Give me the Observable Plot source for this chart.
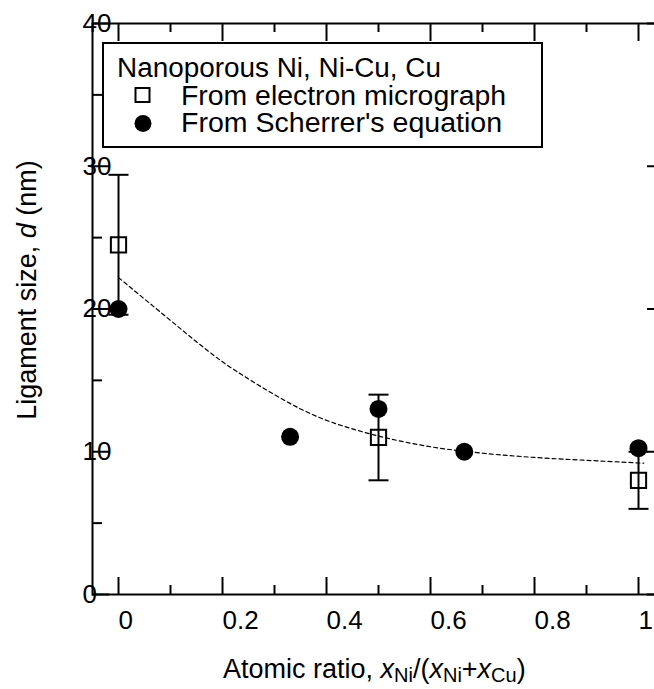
<!DOCTYPE html>
<html>
<head>
<meta charset="utf-8">
<script src="https://cdn.jsdelivr.net/npm/d3@7"></script>
<script src="https://cdn.jsdelivr.net/npm/@observablehq/plot@0.6"></script>
<style>
  html, body { margin: 0; padding: 0; overflow: hidden; background: white; }
  #chart svg { display: block; max-width: none !important; width: 680px !important; height: 689px !important; }
</style>
</head>
<body>
<div id="chart"></div>
<script>
// ---- data ----
const xMajor = [0, 0.2, 0.4, 0.6, 0.8, 1];
const xMinor = [0.1, 0.3, 0.5, 0.7, 0.9];
const xTickLabels = ["0", "0.2", "0.4", "0.6", "0.8", "1"];
const yMajor = [0, 10, 20, 30, 40];
const yMinor = [5, 15, 25, 35];
const yTickLabels = ["0", "10", "20", "30", "40"];

// From electron micrograph (open squares, with error bars)
const micrographX = [0, 0.5, 1];
const micrographD = [24.5, 11, 8];
const micrographErr = [4.9, 3, 2];

// From Scherrer's equation (filled circles)
const scherrerX = [0, 0.33, 0.5, 0.665, 1];
const scherrerD = [20, 11.05, 13, 10, 10.25];

// Dashed guide curve
const curveX = [0, 0.05, 0.1, 0.15, 0.2, 0.25, 0.3, 0.35, 0.4, 0.45, 0.5, 0.6, 0.7, 0.8, 0.9, 1.01];
const curveD = [22.2, 20.7, 19.2, 17.7, 16.3, 15.1, 14.0, 13.0, 12.2, 11.6, 11.1, 10.35, 9.9, 9.6, 9.4, 9.2];

const legendTitle = "Nanoporous Ni, Ni-Cu, Cu";
const legendItems = ["From electron micrograph", "From Scherrer's equation"];

// ---- tables ----
const micro = micrographX.map((x, i) => ({x, d: micrographD[i], err: micrographErr[i]}));
const scher = scherrerX.map((x, i) => ({x, d: scherrerD[i]}));
const curve = curveX.map((x, i) => ({x, d: curveD[i]}));

const W = 680, H = 689;
const mL = 92, mR = 16, mT = 23, mB = 95;
const plotW = W - mL - mR, plotH = H - mT - mB;
const FONT = "'Liberation Sans', Arial, Helvetica, sans-serif";

const capSymbol = {
  draw(context, size) {
    const r = Math.sqrt(size / Math.PI);
    context.moveTo(-r, 0);
    context.lineTo(r, 0);
  }
};

const chart = Plot.plot({
  width: W,
  height: H,
  marginLeft: mL,
  marginRight: mR,
  marginTop: mT,
  marginBottom: mB,
  style: {fontFamily: FONT, fontSize: "26px", background: "white", color: "black", overflow: "visible"},
  x: {domain: [-0.05, 1.05], axis: null},
  y: {domain: [0, 40], axis: null},
  marks: [
    // inward ticks
    Plot.tickX(xMajor, {x: d => d, insetTop: plotH - 17, stroke: "black", strokeWidth: 2}),
    Plot.tickX(xMinor, {x: d => d, insetTop: plotH - 9, stroke: "black", strokeWidth: 2}),
    Plot.tickX(xMajor, {x: d => d, insetBottom: plotH - 18, stroke: "black", strokeWidth: 2}),
    Plot.tickX(xMinor, {x: d => d, insetBottom: plotH - 9, stroke: "black", strokeWidth: 2}),
    Plot.tickY(yMajor, {y: d => d, insetRight: plotW - 17, stroke: "black", strokeWidth: 2}),
    Plot.tickY(yMinor, {y: d => d, insetRight: plotW - 10, stroke: "black", strokeWidth: 2}),
    Plot.tickY(yMajor, {y: d => d, insetLeft: plotW - 17, stroke: "black", strokeWidth: 2}),
    Plot.tickY(yMinor, {y: d => d, insetLeft: plotW - 10, stroke: "black", strokeWidth: 2}),
    // tick labels
    Plot.axisX(xMajor, {anchor: "bottom", tickSize: 0, tickPadding: 16, textAnchor: "start",
      tickFormat: d => xTickLabels[xMajor.indexOf(d)], fontSize: 26, fill: "black", label: null}),
    Plot.axisY(yMajor, {anchor: "left", tickSize: 0, tickPadding: 10, textAnchor: "start",
      tickFormat: d => yTickLabels[yMajor.indexOf(d)], fontSize: 26, fill: "black", label: null}),
    // error bars
    Plot.ruleX(micro, {x: "x", y1: d => d.d - d.err, y2: d => d.d + d.err, stroke: "black", strokeWidth: 2}),
    Plot.dot(micro, {x: "x", y: d => d.d + d.err, symbol: capSymbol, r: 10, stroke: "black", strokeWidth: 2, fill: "none"}),
    Plot.dot(micro, {x: "x", y: d => d.d - d.err, symbol: capSymbol, r: 10, stroke: "black", strokeWidth: 2, fill: "none"}),
    // dashed curve
    Plot.line(curve, {x: "x", y: "d", curve: "monotone-x", stroke: "black", strokeWidth: 1.2, strokeDasharray: "4,3"}),
    // symbols
    Plot.dot(micro, {x: "x", y: "d", symbol: "square", r: 8.6, stroke: "black", strokeWidth: 2, fill: "none"}),
    Plot.dot(scher, {x: "x", y: "d", r: 9, fill: "black", stroke: "none"}),
    Plot.frame({stroke: "black", strokeWidth: 2})
  ]
});

document.getElementById("chart").appendChild(chart);

const svg = d3.select(chart);

// y-axis title
svg.append("text")
  .attr("transform", "translate(36,290) rotate(-90)")
  .attr("text-anchor", "middle")
  .attr("font-family", FONT)
  .attr("font-size", 27)
  .attr("fill", "black")
  .call(t => {
    t.append("tspan").text("Ligament size, ");
    t.append("tspan").attr("font-style", "italic").text("d");
    t.append("tspan").text(" (nm)");
  });

// x-axis title
svg.append("text")
  .attr("x", 223).attr("y", 678)
  .attr("text-anchor", "start")
  .attr("font-family", FONT)
  .attr("font-size", 27)
  .attr("fill", "black")
  .call(t => {
    const sub = (s) => { t.append("tspan").attr("font-size", 20).attr("dy", 4).text(s); };
    t.append("tspan").text("Atomic ratio, ");
    t.append("tspan").attr("font-style", "italic").text("x");
    sub("Ni");
    t.append("tspan").attr("dy", -4).text("/(");
    t.append("tspan").attr("font-style", "italic").text("x");
    sub("Ni");
    t.append("tspan").attr("dy", -4).text("+");
    t.append("tspan").attr("font-style", "italic").text("x");
    sub("Cu");
    t.append("tspan").attr("dy", -4).text(")");
  });

// legend
const lg = svg.append("g").attr("font-family", FONT).attr("font-size", 27).attr("fill", "black")
  .attr("text-anchor", "start");
lg.append("rect").attr("x", 103).attr("y", 43).attr("width", 439).attr("height", 104)
  .attr("fill", "white").attr("stroke", "black").attr("stroke-width", 2);
lg.append("text").attr("x", 117).attr("y", 77).attr("textLength", 324).attr("lengthAdjust", "spacingAndGlyphs").text(legendTitle);
lg.append("rect").attr("x", 135.5).attr("y", 88).attr("width", 14).attr("height", 14)
  .attr("fill", "none").attr("stroke", "black").attr("stroke-width", 2);
lg.append("text").attr("x", 181).attr("y", 104.5).attr("textLength", 325).attr("lengthAdjust", "spacingAndGlyphs").text(legendItems[0]);
lg.append("circle").attr("cx", 143).attr("cy", 123.5).attr("r", 8.5).attr("fill", "black");
lg.append("text").attr("x", 181).attr("y", 132).attr("textLength", 321).attr("lengthAdjust", "spacingAndGlyphs").text(legendItems[1]);
</script>
</body>
</html>
